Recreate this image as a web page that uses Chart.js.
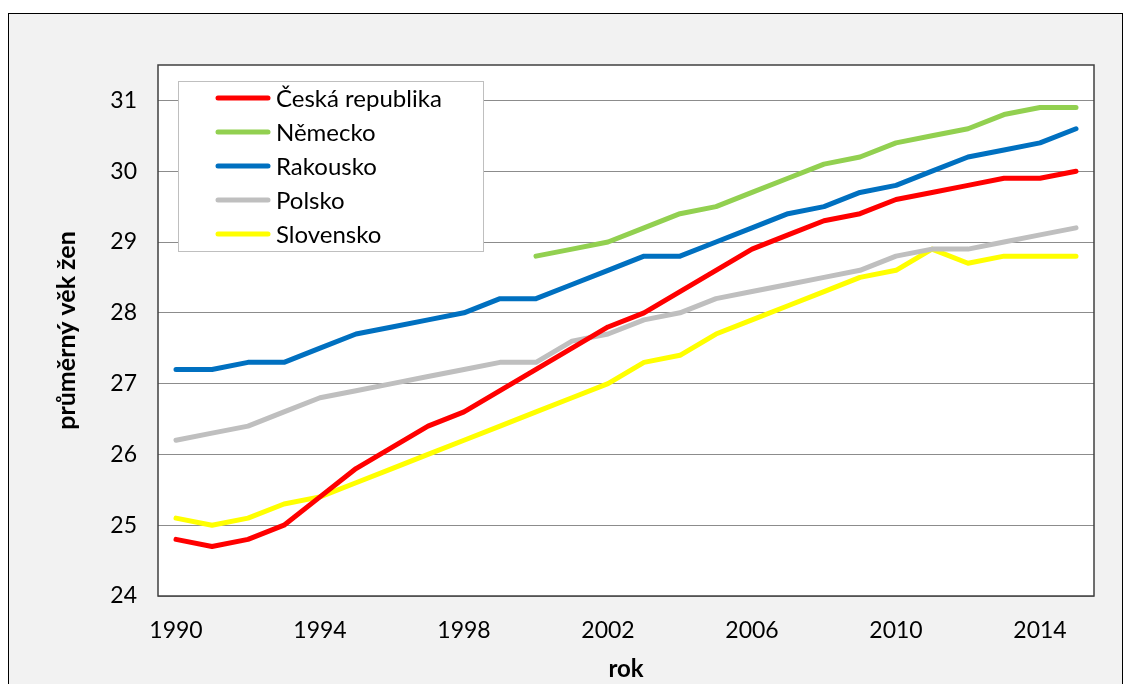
<!DOCTYPE html>
<html>
<head>
<meta charset="utf-8">
<script src="https://cdn.jsdelivr.net/npm/chart.js@4"></script>
<style>
  html, body { margin: 0; padding: 0; background: #fff; }
  #wrap { position: relative; width: 1129px; height: 684px; }
</style>
</head>
<body>
<div id="wrap"><canvas id="myChart" width="1129" height="684"></canvas></div>
<script>
const years = ['1990','1991','1992','1993','1994','1995','1996','1997','1998','1999','2000','2001','2002',
  '2003','2004','2005','2006','2007','2008','2009','2010','2011','2012','2013','2014','2015'];

const ceskaRepublika = [24.8, 24.7, 24.8, 25.0, 25.4, 25.8, 26.1, 26.4, 26.6, 26.9, 27.2, 27.5, 27.8,
  28.0, 28.3, 28.6, 28.9, 29.1, 29.3, 29.4, 29.6, 29.7, 29.8, 29.9, 29.9, 30.0];
const nemecko = [null, null, null, null, null, null, null, null, null, null, 28.8, 28.9, 29.0,
  29.2, 29.4, 29.5, 29.7, 29.9, 30.1, 30.2, 30.4, 30.5, 30.6, 30.8, 30.9, 30.9];
const rakousko = [27.2, 27.2, 27.3, 27.3, 27.5, 27.7, 27.8, 27.9, 28.0, 28.2, 28.2, 28.4, 28.6,
  28.8, 28.8, 29.0, 29.2, 29.4, 29.5, 29.7, 29.8, 30.0, 30.2, 30.3, 30.4, 30.6];
const polsko = [26.2, 26.3, 26.4, 26.6, 26.8, 26.9, 27.0, 27.1, 27.2, 27.3, 27.3, 27.6, 27.7,
  27.9, 28.0, 28.2, 28.3, 28.4, 28.5, 28.6, 28.8, 28.9, 28.9, 29.0, 29.1, 29.2];
const slovensko = [25.1, 25.0, 25.1, 25.3, 25.4, 25.6, 25.8, 26.0, 26.2, 26.4, 26.6, 26.8, 27.0,
  27.3, 27.4, 27.7, 27.9, 28.1, 28.3, 28.5, 28.6, 28.9, 28.7, 28.8, 28.8, 28.8];

const seriesNames = ['Česká republika', 'Německo', 'Rakousko', 'Polsko', 'Slovensko'];
const seriesColors = ['#FF0000', '#92D050', '#0070C0', '#BFBFBF', '#FFFF00'];
const yTicks = [24, 25, 26, 27, 28, 29, 30, 31];

const fontFamily = 'Lato, "Open Sans", sans-serif';

// background frame, white plot area, plot border and legend box
const decor = {
  id: 'decor',
  beforeDraw(chart) {
    const { ctx, chartArea: a } = chart;
    ctx.save();
    ctx.fillStyle = '#fff';
    ctx.fillRect(0, 0, chart.width, chart.height);
    ctx.fillStyle = '#F2F2F2';
    ctx.fillRect(8, 13, 1114, 700);
    ctx.strokeStyle = '#000';
    ctx.lineWidth = 1;
    ctx.strokeRect(8.5, 13.5, 1114, 700);
    ctx.fillStyle = '#fff';
    ctx.fillRect(a.left, a.top, a.right - a.left, a.bottom - a.top);
    ctx.restore();
  },
  afterDatasetsDraw(chart) {
    const { ctx, chartArea: a } = chart;
    ctx.save();
    ctx.strokeStyle = '#404040';
    ctx.lineWidth = 1.5;
    ctx.strokeRect(a.left, a.top, a.right - a.left, a.bottom - a.top);

    // legend
    ctx.fillStyle = '#fff';
    ctx.fillRect(178, 81, 305, 170);
    ctx.strokeStyle = '#BFBFBF';
    ctx.lineWidth = 1;
    ctx.strokeRect(178.5, 81.5, 305, 170);
    ctx.font = '24px ' + fontFamily;
    ctx.textBaseline = 'middle';
    ctx.lineCap = 'round';
    chart.data.datasets.forEach((ds, i) => {
      const y = 98 + i * 34;
      ctx.strokeStyle = ds.borderColor;
      ctx.lineWidth = 5;
      ctx.beginPath();
      ctx.moveTo(218, y);
      ctx.lineTo(268, y);
      ctx.stroke();
      ctx.fillStyle = '#000';
      ctx.fillText(ds.label, 276, y + 1);
    });
    ctx.restore();
  }
};

const ctx = document.getElementById('myChart');
const allSeries = [ceskaRepublika, nemecko, rakousko, polsko, slovensko];

new Chart(ctx, {
  type: 'line',
  data: {
    labels: years,
    datasets: allSeries.map((d, i) => ({
      label: seriesNames[i],
      data: d,
      borderColor: seriesColors[i],
      backgroundColor: seriesColors[i],
      borderWidth: 5,
      pointRadius: 0,
      tension: 0,
      borderCapStyle: 'round',
      borderJoinStyle: 'round',
      spanGaps: false,
    })),
  },
  options: {
    responsive: false,
    animation: false,
    layout: { padding: { top: 65, right: 35, left: 0, bottom: 0 } },
    plugins: {
      legend: { display: false },
      tooltip: { enabled: false },
    },
    scales: {
      x: {
        offset: true,
        grid: { display: false, drawTicks: false },
        border: { display: false },
        ticks: {
          autoSkip: false,
          maxRotation: 0,
          padding: 21,
          color: '#000',
          font: { family: fontFamily, size: 23 },
          callback: function (value, index) {
            return index % 4 === 0 ? years[index] : '';
          },
        },
        title: {
          display: true,
          text: 'rok',
          color: '#000',
          font: { family: fontFamily, size: 24, weight: 'bold' },
          padding: { top: 0, bottom: 0 },
        },
        afterFit(scale) { scale.height = 88; },
      },
      y: {
        min: 24,
        max: 31.5,
        afterBuildTicks(scale) {
          scale.ticks = yTicks.map(v => ({ value: v }));
        },
        grid: { color: '#8C8C8C', lineWidth: 1, drawTicks: false },
        border: { display: false },
        ticks: {
          padding: 21,
          color: '#000',
          font: { family: fontFamily, size: 23 },
        },
        title: {
          display: true,
          text: 'průměrný věk žen',
          color: '#000',
          font: { family: fontFamily, size: 25, weight: 'bold' },
          padding: { top: 52, bottom: 0 },
        },
        afterFit(scale) { scale.width = 158; },
      },
    },
  },
  plugins: [decor],
});
</script>
</body>
</html>
